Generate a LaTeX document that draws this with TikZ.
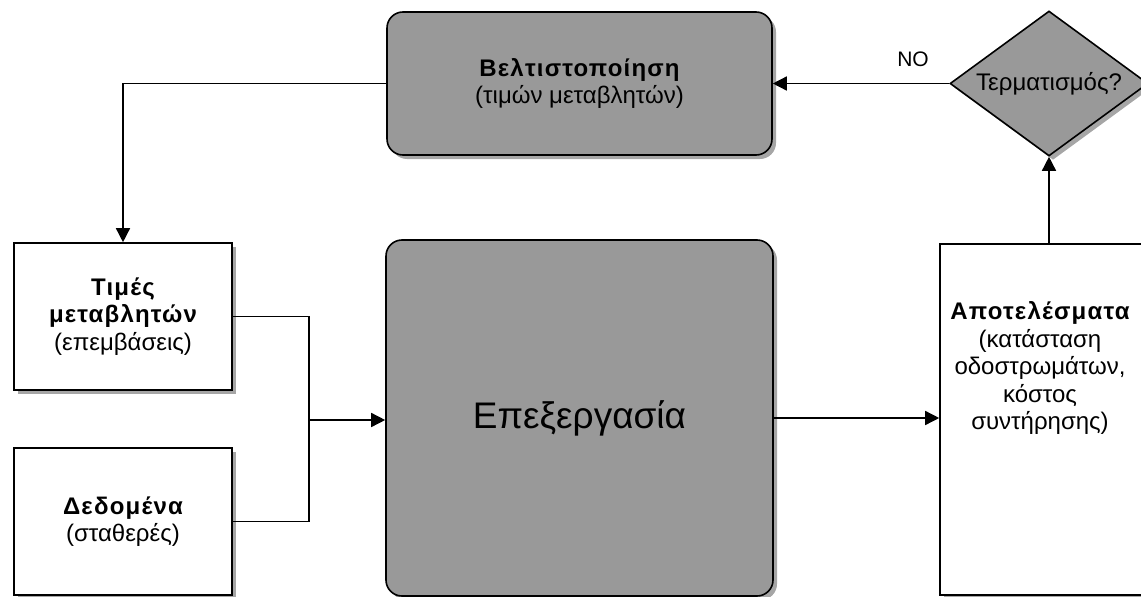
\documentclass[tikz,border=0pt]{standalone}
\usepackage{fontspec}
\setmainfont{Liberation Sans}
\usetikzlibrary{shapes.geometric,arrows.meta,shadows}
\newcommand{\bt}[1]{{\bfseries\addfontfeatures{LetterSpace=5}#1}}
\begin{document}
\begin{tikzpicture}[x=1pt,y=-1pt,
  shad/.style={drop shadow={shadow xshift=4pt,shadow yshift=-4pt,opacity=0.35,fill=black}},
  txt/.style={font=\fontsize{24}{27.5}\selectfont},
  whitebox/.style={draw=black,line width=1.6pt,fill=white,shad,inner sep=0pt,align=center,txt},
  graybox/.style={draw=black,line width=1.6pt,fill=gray!80,rounded corners=16pt,shad,inner sep=0pt,align=center,txt},
  decis/.style={draw=black,line width=1.6pt,fill=gray!80,diamond,aspect=1.37,inner sep=0pt,shad,txt},
  arr/.style={line width=1.5pt,-{Triangle[length=14pt,width=14pt]}},
  ln/.style={line width=1.5pt}
]
\useasboundingbox (0,0) rectangle (1141,597);
\node[graybox,minimum width=385pt,minimum height=143pt] (opt) at (579.5,83.5) {\bt{Βελτιστοποίηση}\\(τιμών μεταβλητών)};
\node[decis,minimum width=198pt,minimum height=145pt] (dec) at (1049,83.5) {Τερματισμός?};
\node[whitebox,minimum width=218pt,minimum height=147pt] (vals) at (123,316.5) {\bt{Τιμές}\\\bt{μεταβλητών}\\(επεμβάσεις)};
\node[whitebox,minimum width=218pt,minimum height=147pt] (data) at (123,521.5) {\bt{Δεδομένα}\\(σταθερές)};
\node[graybox,minimum width=387pt,minimum height=356pt,font=\fontsize{37}{42}\selectfont] (proc) at (579.5,418) {Επεξεργασία};
\node[whitebox,minimum width=218pt,minimum height=351pt] (res) at (1049,419.5) {};
\node[txt,align=center] (restext) at (1040,368) {\bt{Αποτελέσματα}\\(κατάσταση\\οδοστρωμάτων,\\κόστος\\συντήρησης)};
\node[font=\fontsize{21}{24}\selectfont] (no) at (913,59) {NO};
\coordinate (m) at (309,420);
\draw[arr] (opt.west) -| (vals.north);
\draw[arr] (dec.west) -- (opt.east);
\draw[arr] (res.north) -- (dec.south);
\draw[ln] (vals.east) -| (m);
\draw[ln] (data.east) -| (m);
\draw[arr] (m) -- (m -| proc.west);
\draw[arr] (proc.east) -- (proc.east -| res.west);
\end{tikzpicture}
\end{document}
